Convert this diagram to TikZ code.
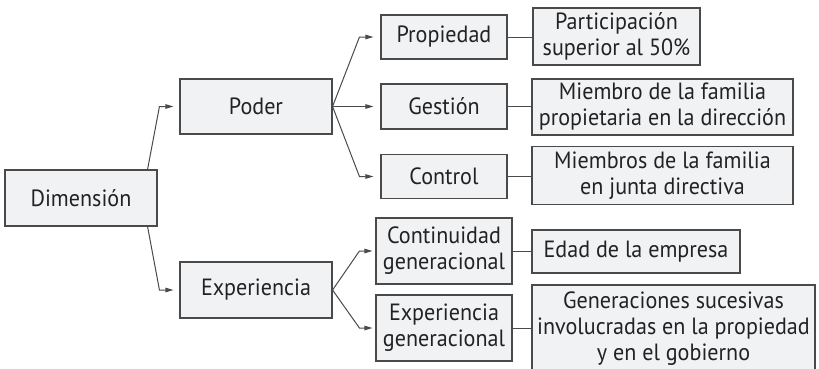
\documentclass[tikz,border=0pt]{standalone}
\usepackage{fontspec}
\setmainfont{PT Sans}[FakeStretch=0.94]
\usetikzlibrary{arrows.meta}
\definecolor{boxfill}{HTML}{F1F2F4}
\definecolor{boxline}{HTML}{4A4A4A}
\definecolor{txt}{HTML}{222222}
\begin{document}
\begin{tikzpicture}[x=1bp,y=-1bp,
  box/.style={draw=boxline,fill=boxfill,line width=1.1bp,inner sep=0pt,
    align=center,text=txt,font=\fontsize{23.5bp}{26bp}\selectfont},
  arr/.style={draw=boxline,line width=1bp,-{Triangle[length=8bp,width=4.5bp]}},
  link/.style={draw=boxline,line width=1bp}]
\useasboundingbox (0,0) rectangle (819,368);
% level 0
\node[box,minimum width=152bp,minimum height=56bp] (dim) at (81,198) {Dimensión};
% level 1
\node[box,minimum width=152bp,minimum height=55bp] (poder) at (256,106.5) {Poder};
\node[box,minimum width=152bp,minimum height=56bp] (exp) at (256,290) {Experiencia};
% level 2
\node[box,minimum width=126bp,minimum height=44bp] (prop) at (444,37) {Propiedad};
\node[box,minimum width=126bp,minimum height=45bp] (gest) at (444,106.5) {Gestión};
\node[box,minimum width=126bp,minimum height=44bp] (ctrl) at (444,176.5) {Control};
\node[box,minimum width=136bp,minimum height=66bp] (cont) at (444,251) {Continuidad\\generacional};
\node[box,minimum width=136bp,minimum height=66bp] (expg) at (444,328) {Experiencia\\generacional};
% level 3
\node[box,minimum width=167bp,minimum height=57bp] (part) at (616.5,36.5) {Participación\\superior al 50\%};
\node[box,minimum width=261bp,minimum height=56bp] (miem) at (662.5,107) {Miembro de la familia\\propietaria en la dirección};
\node[box,minimum width=261bp,minimum height=58bp] (miems) at (662.5,175.5) {Miembros de la familia\\en junta directiva};
\node[box,minimum width=208bp,minimum height=43bp] (edad) at (636,251.5) {Edad de la empresa};
\node[box,minimum width=283bp,minimum height=88bp] (gen) at (673.5,329) {Generaciones sucesivas\\involucradas en la propiedad\\y en el gobierno};
% arrows
\draw[arr,shorten >=6bp] ([xshift=-10bp]dim.north east) -- ([xshift=-20bp]poder.west) -- (poder.west);
\draw[arr,shorten >=6bp] ([xshift=-10bp]dim.south east) -- ([xshift=-20bp]exp.west) -- (exp.west);
\draw[arr,shorten >=7bp] (poder.east) -- ([xshift=-21bp]prop.west) -- (prop.west);
\draw[arr,shorten >=7bp] (poder.east) -- (gest.west);
\draw[arr,shorten >=7bp] (poder.east) -- ([xshift=-21bp]ctrl.west) -- (ctrl.west);
\draw[arr,shorten >=3bp] (exp.east) -- ([xshift=-16bp]cont.west) -- (cont.west);
\draw[arr,shorten >=3bp] (exp.east) -- ([xshift=-16bp]expg.west) -- (expg.west);
% links
\draw[link] (prop.east) -- (prop.east -| part.west);
\draw[link] (gest.east) -- (gest.east -| miem.west);
\draw[link] (ctrl.east) -- (ctrl.east -| miems.west);
\draw[link] (cont.east) -- (cont.east -| edad.west);
\draw[link] (expg.east) -- (expg.east -| gen.west);
\end{tikzpicture}
\end{document}
